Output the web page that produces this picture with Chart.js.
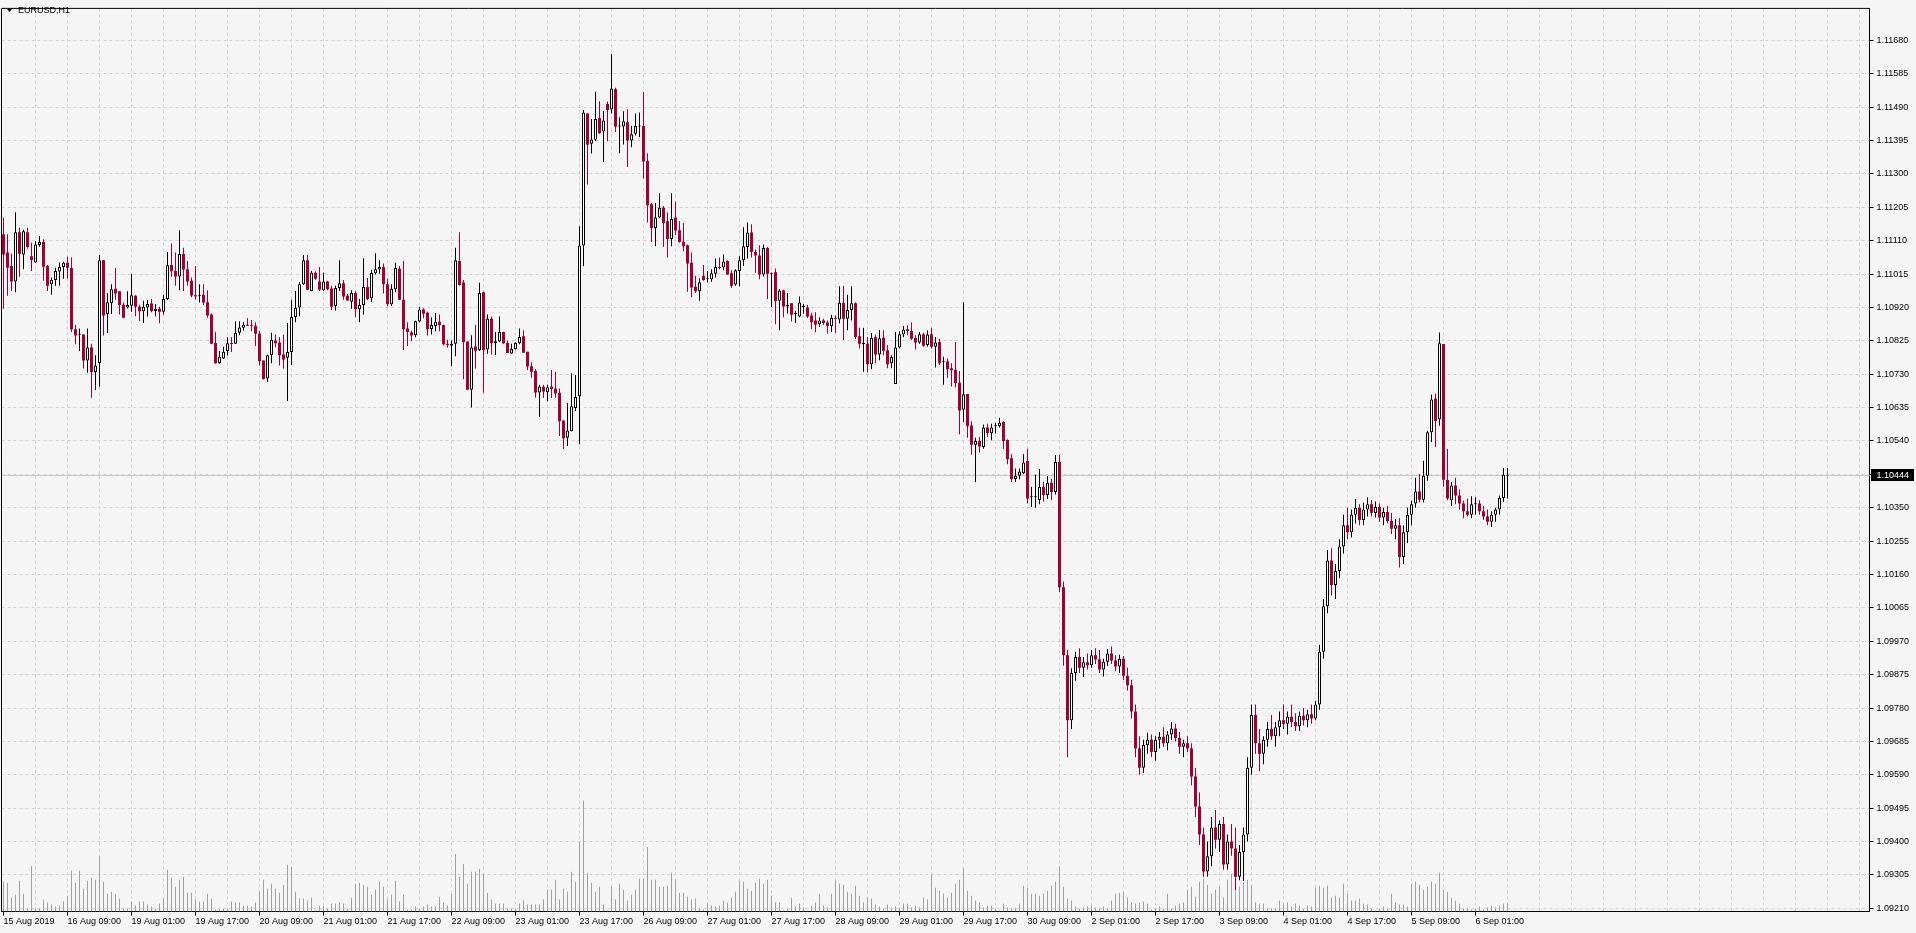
<!DOCTYPE html>
<html>
<head>
<meta charset="utf-8">
<title>EURUSD,H1</title>
<script src="https://cdn.jsdelivr.net/npm/chart.js@4.4.1/dist/chart.umd.min.js"></script>
<style>
  html, body { margin: 0; padding: 0; background: #f5f5f5; overflow: hidden; }
</style>
</head>
<body>
<canvas id="chart" width="1916" height="933"></canvas>
<script>
var symbol = 'EURUSD,H1';
var bidPrice = 1.10444;
var barCount = 377;
var slotCount = 467;

var priceTicks = [1.09210, 1.09305, 1.09400, 1.09495, 1.09590, 1.09685, 1.09780, 1.09875, 1.09970,
  1.10065, 1.10160, 1.10255, 1.10350, 1.10445, 1.10540, 1.10635, 1.10730, 1.10825, 1.10920,
  1.11015, 1.11110, 1.11205, 1.11300, 1.11395, 1.11490, 1.11585, 1.11680];

var axisLabels = ['15 Aug 2019', '16 Aug 09:00', '19 Aug 01:00', '19 Aug 17:00', '20 Aug 09:00',
  '21 Aug 01:00', '21 Aug 17:00', '22 Aug 09:00', '23 Aug 01:00', '23 Aug 17:00', '26 Aug 09:00',
  '27 Aug 01:00', '27 Aug 17:00', '28 Aug 09:00', '29 Aug 01:00', '29 Aug 17:00', '30 Aug 09:00',
  '2 Sep 01:00', '2 Sep 17:00', '3 Sep 09:00', '4 Sep 01:00', '4 Sep 17:00', '5 Sep 09:00', '6 Sep 01:00'];

var opens = [
  1.11128, 1.11076, 1.11038, 1.10994, 1.11134, 1.11071, 1.11134, 1.11066, 1.11048, 1.11098,
  1.11106, 1.11038, 1.10986, 1.10998, 1.11022, 1.11035, 1.11047, 1.11032, 1.10858, 1.10842,
  1.10843, 1.10769, 1.10806, 1.10736, 1.10762, 1.11054, 1.10901, 1.10932, 1.10973, 1.10966,
  1.10928, 1.10920, 1.10925, 1.10953, 1.10922, 1.10909, 1.10920, 1.10931, 1.10910, 1.10916,
  1.10908, 1.10944, 1.11041, 1.11024, 1.11008, 1.11072, 1.11029, 1.10996, 1.10955, 1.10952,
  1.10956, 1.10935, 1.10900, 1.10819, 1.10762, 1.10775, 1.10796, 1.10819, 1.10817, 1.10848,
  1.10862, 1.10871, 1.10871, 1.10868, 1.10846, 1.10769, 1.10718, 1.10784, 1.10826, 1.10820,
  1.10786, 1.10777, 1.10793, 1.10893, 1.10920, 1.10986, 1.11054, 1.10967, 1.11019, 1.10994,
  1.10969, 1.10994, 1.10974, 1.10924, 1.10975, 1.10989, 1.10953, 1.10936, 1.10961, 1.10915,
  1.10927, 1.10978, 1.10946, 1.11017, 1.11028, 1.11035, 1.10986, 1.10929, 1.10972, 1.11030,
  1.10942, 1.10860, 1.10849, 1.10841, 1.10880, 1.10914, 1.10905, 1.10859, 1.10867, 1.10879,
  1.10870, 1.10817, 1.10811, 1.10817, 1.11052, 1.10991, 1.10823, 1.10686, 1.10809, 1.10798,
  1.10963, 1.10800, 1.10888, 1.10818, 1.10823, 1.10850, 1.10819, 1.10789, 1.10801, 1.10818,
  1.10838, 1.10794, 1.10753, 1.10739, 1.10678, 1.10694, 1.10679, 1.10695, 1.10689, 1.10677,
  1.10598, 1.10549, 1.10568, 1.10634, 1.10667, 1.11096, 1.11472, 1.11386, 1.11397, 1.11459,
  1.11421, 1.11499, 1.11483, 1.11541, 1.11435, 1.11435, 1.11447, 1.11395, 1.11414, 1.11435,
  1.11436, 1.11337, 1.11214, 1.11146, 1.11176, 1.11204, 1.11165, 1.11115, 1.11176, 1.11140,
  1.11107, 1.11097, 1.11047, 1.10979, 1.10966, 1.11010, 1.11000, 1.11000, 1.11016, 1.11035,
  1.11034, 1.11052, 1.11017, 1.10985, 1.11024, 1.11054, 1.11092, 1.11133, 1.11078, 1.11068,
  1.11014, 1.11089, 1.11016, 1.11020, 1.10939, 1.10968, 1.10923, 1.10932, 1.10901, 1.10894,
  1.10921, 1.10920, 1.10897, 1.10883, 1.10872, 1.10883, 1.10877, 1.10867, 1.10890, 1.10886,
  1.10933, 1.10888, 1.10913, 1.10932, 1.10838, 1.10816, 1.10817, 1.10758, 1.10836, 1.10786,
  1.10834, 1.10798, 1.10761, 1.10702, 1.10806, 1.10843, 1.10858, 1.10853, 1.10833, 1.10820,
  1.10844, 1.10813, 1.10844, 1.10808, 1.10822, 1.10764, 1.10766, 1.10747, 1.10743, 1.10706,
  1.10629, 1.10674, 1.10584, 1.10529, 1.10540, 1.10523, 1.10578, 1.10562, 1.10583, 1.10582,
  1.10594, 1.10543, 1.10491, 1.10432, 1.10441, 1.10448, 1.10483, 1.10380, 1.10380, 1.10372,
  1.10409, 1.10386, 1.10421, 1.10395, 1.10480, 1.10124, 1.09930, 1.09745, 1.09880, 1.09925,
  1.09895, 1.09910, 1.09902, 1.09930, 1.09918, 1.09890, 1.09912, 1.09935, 1.09915, 1.09898,
  1.09920, 1.09872, 1.09845, 1.09770, 1.09665, 1.09610, 1.09675, 1.09690, 1.09655, 1.09690,
  1.09698, 1.09680, 1.09705, 1.09722, 1.09695, 1.09670, 1.09680, 1.09665, 1.09585, 1.09500,
  1.09420, 1.09315, 1.09358, 1.09440, 1.09405, 1.09450, 1.09335, 1.09400, 1.09380, 1.09300,
  1.09370, 1.09420, 1.09610, 1.09760, 1.09680, 1.09650, 1.09690, 1.09720, 1.09700, 1.09725,
  1.09745, 1.09735, 1.09755, 1.09740, 1.09728, 1.09758, 1.09745, 1.09762, 1.09750, 1.09790,
  1.09940, 1.10070, 1.10200, 1.10130, 1.10170, 1.10240, 1.10300, 1.10280, 1.10330, 1.10350,
  1.10315, 1.10345, 1.10360, 1.10335, 1.10352, 1.10322, 1.10338, 1.10312, 1.10290, 1.10300,
  1.10210, 1.10280, 1.10330, 1.10362, 1.10396, 1.10373, 1.10441, 1.10565, 1.10660, 1.10602,
  1.10816, 1.10429, 1.10371, 1.10413, 1.10385, 1.10362, 1.10340, 1.10330, 1.10360, 1.10362,
  1.10340, 1.10325, 1.10310, 1.10330, 1.10345, 1.10378, 1.10441
];
var highs = [
  1.11175, 1.11128, 1.11073, 1.11191, 1.11147, 1.11141, 1.11147, 1.11104, 1.11109, 1.11123,
  1.11114, 1.11041, 1.11005, 1.11033, 1.11048, 1.11050, 1.11064, 1.11062, 1.10871, 1.10860,
  1.10843, 1.10860, 1.10817, 1.10784, 1.11069, 1.11054, 1.10961, 1.10986, 1.11032, 1.10967,
  1.10934, 1.10966, 1.11015, 1.10955, 1.10928, 1.10939, 1.10941, 1.10944, 1.10929, 1.10922,
  1.10956, 1.11078, 1.11102, 1.11076, 1.11140, 1.11090, 1.11052, 1.11005, 1.11038, 1.10986,
  1.10986, 1.10969, 1.10903, 1.10851, 1.10796, 1.10808, 1.10835, 1.10835, 1.10881, 1.10881,
  1.10878, 1.10889, 1.10884, 1.10877, 1.10854, 1.10769, 1.10786, 1.10848, 1.10843, 1.10835,
  1.10842, 1.10876, 1.10942, 1.10967, 1.10993, 1.11069, 1.11069, 1.11024, 1.11023, 1.11035,
  1.11019, 1.10996, 1.10982, 1.10982, 1.11054, 1.10998, 1.10958, 1.10969, 1.10966, 1.10944,
  1.11060, 1.11004, 1.11027, 1.11074, 1.11054, 1.11045, 1.11002, 1.10986, 1.11047, 1.11038,
  1.11052, 1.10878, 1.10854, 1.10882, 1.10922, 1.10918, 1.10908, 1.10892, 1.10904, 1.10900,
  1.10871, 1.10828, 1.10826, 1.11090, 1.11134, 1.10998, 1.10823, 1.10841, 1.10870, 1.10990,
  1.10965, 1.10900, 1.10894, 1.10850, 1.10894, 1.10851, 1.10826, 1.10817, 1.10821, 1.10860,
  1.10855, 1.10794, 1.10764, 1.10744, 1.10700, 1.10700, 1.10700, 1.10742, 1.10737, 1.10689,
  1.10598, 1.10648, 1.10733, 1.10728, 1.11151, 1.11482, 1.11472, 1.11456, 1.11534, 1.11507,
  1.11480, 1.11506, 1.11641, 1.11545, 1.11461, 1.11478, 1.11484, 1.11437, 1.11472, 1.11475,
  1.11533, 1.11359, 1.11217, 1.11217, 1.11245, 1.11209, 1.11190, 1.11245, 1.11221, 1.11165,
  1.11160, 1.11099, 1.11076, 1.11010, 1.11003, 1.11041, 1.11024, 1.11029, 1.11059, 1.11062,
  1.11071, 1.11054, 1.11026, 1.11029, 1.11066, 1.11148, 1.11162, 1.11157, 1.11085, 1.11097,
  1.11099, 1.11092, 1.11019, 1.11031, 1.10972, 1.10970, 1.10961, 1.10932, 1.10910, 1.10951,
  1.10930, 1.10927, 1.10905, 1.10906, 1.10892, 1.10888, 1.10883, 1.10899, 1.10897, 1.10980,
  1.10982, 1.10956, 1.10980, 1.10935, 1.10862, 1.10862, 1.10836, 1.10847, 1.10843, 1.10856,
  1.10855, 1.10813, 1.10784, 1.10850, 1.10852, 1.10867, 1.10869, 1.10878, 1.10841, 1.10850,
  1.10848, 1.10855, 1.10862, 1.10836, 1.10831, 1.10780, 1.10775, 1.10761, 1.10822, 1.10739,
  1.10935, 1.10674, 1.10596, 1.10549, 1.10551, 1.10587, 1.10589, 1.10589, 1.10592, 1.10606,
  1.10596, 1.10545, 1.10502, 1.10462, 1.10462, 1.10502, 1.10518, 1.10409, 1.10444, 1.10460,
  1.10425, 1.10440, 1.10432, 1.10500, 1.10500, 1.10140, 1.09946, 1.09893, 1.09940, 1.09950,
  1.09925, 1.09935, 1.09945, 1.09950, 1.09945, 1.09920, 1.09948, 1.09955, 1.09930, 1.09932,
  1.09928, 1.09895, 1.09860, 1.09790, 1.09700, 1.09690, 1.09710, 1.09705, 1.09700, 1.09712,
  1.09725, 1.09715, 1.09740, 1.09735, 1.09712, 1.09690, 1.09700, 1.09680, 1.09610, 1.09540,
  1.09440, 1.09400, 1.09470, 1.09490, 1.09460, 1.09470, 1.09420, 1.09450, 1.09440, 1.09390,
  1.09440, 1.09640, 1.09790, 1.09790, 1.09720, 1.09700, 1.09740, 1.09760, 1.09740, 1.09770,
  1.09790, 1.09770, 1.09790, 1.09765, 1.09770, 1.09780, 1.09775, 1.09790, 1.09800, 1.09960,
  1.10090, 1.10230, 1.10235, 1.10190, 1.10260, 1.10330, 1.10350, 1.10345, 1.10375, 1.10360,
  1.10365, 1.10380, 1.10372, 1.10368, 1.10362, 1.10350, 1.10355, 1.10335, 1.10318, 1.10320,
  1.10300, 1.10350, 1.10370, 1.10435, 1.10446, 1.10484, 1.10569, 1.10672, 1.10675, 1.10849,
  1.10816, 1.10517, 1.10423, 1.10435, 1.10402, 1.10370, 1.10376, 1.10383, 1.10380, 1.10371,
  1.10355, 1.10345, 1.10340, 1.10350, 1.10385, 1.10463, 1.10463
];
var lows = [
  1.10916, 1.10953, 1.10967, 1.10963, 1.11007, 1.11029, 1.11087, 1.11024, 1.11048, 1.11093,
  1.10996, 1.10967, 1.10956, 1.10982, 1.10982, 1.11002, 1.11002, 1.10850, 1.10815, 1.10796,
  1.10746, 1.10734, 1.10663, 1.10685, 1.10694, 1.10840, 1.10847, 1.10901, 1.10942, 1.10900,
  1.10889, 1.10917, 1.10908, 1.10895, 1.10881, 1.10876, 1.10894, 1.10906, 1.10895, 1.10875,
  1.10900, 1.10941, 1.11007, 1.10982, 1.10969, 1.10967, 1.10982, 1.10949, 1.10942, 1.10934,
  1.10927, 1.10891, 1.10815, 1.10760, 1.10760, 1.10773, 1.10783, 1.10793, 1.10817, 1.10841,
  1.10854, 1.10867, 1.10852, 1.10810, 1.10755, 1.10716, 1.10708, 1.10761, 1.10807, 1.10755,
  1.10746, 1.10654, 1.10756, 1.10878, 1.10895, 1.10984, 1.10970, 1.10966, 1.10999, 1.10967,
  1.10967, 1.10969, 1.10913, 1.10911, 1.10967, 1.10942, 1.10939, 1.10916, 1.10892, 1.10878,
  1.10899, 1.10941, 1.10936, 1.11014, 1.11016, 1.10960, 1.10923, 1.10924, 1.10963, 1.10941,
  1.10799, 1.10810, 1.10824, 1.10835, 1.10878, 1.10889, 1.10840, 1.10843, 1.10852, 1.10852,
  1.10812, 1.10805, 1.10753, 1.10781, 1.10982, 1.10716, 1.10686, 1.10635, 1.10746, 1.10796,
  1.10677, 1.10788, 1.10786, 1.10785, 1.10822, 1.10817, 1.10790, 1.10788, 1.10800, 1.10815,
  1.10791, 1.10742, 1.10720, 1.10664, 1.10608, 1.10662, 1.10653, 1.10662, 1.10662, 1.10554,
  1.10517, 1.10526, 1.10568, 1.10625, 1.10531, 1.11038, 1.11270, 1.11358, 1.11393, 1.11414,
  1.11334, 1.11393, 1.11472, 1.11419, 1.11359, 1.11384, 1.11320, 1.11376, 1.11409, 1.11405,
  1.11287, 1.11162, 1.11106, 1.11094, 1.11174, 1.11093, 1.11062, 1.11094, 1.11126, 1.11104,
  1.11080, 1.10965, 1.10949, 1.10961, 1.10939, 1.10996, 1.10991, 1.10993, 1.11005, 1.11029,
  1.11026, 1.11012, 1.10976, 1.10982, 1.10980, 1.11038, 1.11059, 1.11062, 1.11019, 1.11000,
  1.11008, 1.10944, 1.10921, 1.10872, 1.10855, 1.10892, 1.10902, 1.10880, 1.10876, 1.10892,
  1.10902, 1.10890, 1.10858, 1.10850, 1.10864, 1.10871, 1.10845, 1.10850, 1.10847, 1.10874,
  1.10827, 1.10855, 1.10883, 1.10830, 1.10803, 1.10737, 1.10735, 1.10744, 1.10761, 1.10770,
  1.10784, 1.10747, 1.10747, 1.10702, 1.10803, 1.10836, 1.10841, 1.10827, 1.10800, 1.10817,
  1.10808, 1.10808, 1.10803, 1.10749, 1.10756, 1.10700, 1.10720, 1.10695, 1.10692, 1.10559,
  1.10594, 1.10549, 1.10501, 1.10423, 1.10507, 1.10518, 1.10551, 1.10542, 1.10561, 1.10578,
  1.10517, 1.10474, 1.10423, 1.10423, 1.10431, 1.10446, 1.10362, 1.10352, 1.10350, 1.10360,
  1.10368, 1.10375, 1.10371, 1.10388, 1.10110, 1.09900, 1.09640, 1.09720, 1.09858, 1.09880,
  1.09868, 1.09890, 1.09895, 1.09905, 1.09880, 1.09870, 1.09900, 1.09905, 1.09885, 1.09880,
  1.09860, 1.09830, 1.09750, 1.09640, 1.09590, 1.09595, 1.09650, 1.09640, 1.09630, 1.09665,
  1.09670, 1.09660, 1.09690, 1.09685, 1.09650, 1.09640, 1.09655, 1.09560, 1.09470, 1.09390,
  1.09300, 1.09300, 1.09330, 1.09380, 1.09370, 1.09320, 1.09320, 1.09360, 1.09262, 1.09290,
  1.09288, 1.09400, 1.09590, 1.09650, 1.09600, 1.09620, 1.09670, 1.09690, 1.09670, 1.09700,
  1.09720, 1.09705, 1.09725, 1.09715, 1.09715, 1.09730, 1.09725, 1.09735, 1.09745, 1.09775,
  1.09920, 1.10050, 1.10100, 1.10090, 1.10150, 1.10220, 1.10260, 1.10265, 1.10305, 1.10300,
  1.10300, 1.10325, 1.10325, 1.10322, 1.10310, 1.10300, 1.10305, 1.10275, 1.10260, 1.10180,
  1.10190, 1.10250, 1.10300, 1.10350, 1.10365, 1.10365, 1.10427, 1.10537, 1.10523, 1.10583,
  1.10410, 1.10371, 1.10355, 1.10360, 1.10345, 1.10320, 1.10325, 1.10320, 1.10330, 1.10330,
  1.10315, 1.10300, 1.10295, 1.10310, 1.10330, 1.10367, 1.10376
];
var closes = [
  1.11071, 1.11033, 1.10994, 1.11134, 1.11073, 1.11137, 1.11092, 1.11055, 1.11099, 1.11106,
  1.11036, 1.10982, 1.10999, 1.11024, 1.11035, 1.11047, 1.11033, 1.10858, 1.10840, 1.10843,
  1.10769, 1.10806, 1.10736, 1.10755, 1.11054, 1.10897, 1.10935, 1.10972, 1.10960, 1.10927,
  1.10891, 1.10927, 1.10955, 1.10922, 1.10909, 1.10922, 1.10930, 1.10910, 1.10916, 1.10908,
  1.10944, 1.11040, 1.11023, 1.11008, 1.11072, 1.11028, 1.10994, 1.10954, 1.10951, 1.10954,
  1.10934, 1.10897, 1.10817, 1.10761, 1.10780, 1.10794, 1.10818, 1.10816, 1.10848, 1.10863,
  1.10871, 1.10868, 1.10868, 1.10845, 1.10767, 1.10716, 1.10784, 1.10828, 1.10818, 1.10784,
  1.10772, 1.10793, 1.10893, 1.10919, 1.10986, 1.11054, 1.10970, 1.11019, 1.11002, 1.10970,
  1.10994, 1.10972, 1.10922, 1.10975, 1.10989, 1.10951, 1.10940, 1.10961, 1.10915, 1.10927,
  1.10978, 1.10944, 1.11018, 1.11029, 1.11035, 1.10986, 1.10929, 1.10973, 1.11032, 1.10942,
  1.10858, 1.10850, 1.10840, 1.10881, 1.10914, 1.10902, 1.10858, 1.10870, 1.10879, 1.10870,
  1.10815, 1.10813, 1.10817, 1.11054, 1.10984, 1.10822, 1.10686, 1.10806, 1.10797, 1.10961,
  1.10798, 1.10888, 1.10818, 1.10824, 1.10850, 1.10818, 1.10790, 1.10802, 1.10819, 1.10836,
  1.10791, 1.10752, 1.10737, 1.10678, 1.10695, 1.10681, 1.10693, 1.10688, 1.10675, 1.10596,
  1.10548, 1.10570, 1.10639, 1.10665, 1.11096, 1.11475, 1.11383, 1.11398, 1.11456, 1.11416,
  1.11452, 1.11482, 1.11543, 1.11435, 1.11436, 1.11450, 1.11395, 1.11413, 1.11436, 1.11436,
  1.11335, 1.11211, 1.11146, 1.11176, 1.11204, 1.11160, 1.11115, 1.11172, 1.11139, 1.11106,
  1.11094, 1.11045, 1.10977, 1.10966, 1.10992, 1.10998, 1.11003, 1.11017, 1.11035, 1.11033,
  1.11051, 1.11014, 1.10982, 1.11026, 1.11054, 1.11094, 1.11133, 1.11078, 1.11068, 1.11014,
  1.11089, 1.11016, 1.11017, 1.10938, 1.10968, 1.10923, 1.10928, 1.10899, 1.10905, 1.10934,
  1.10923, 1.10894, 1.10878, 1.10871, 1.10883, 1.10876, 1.10867, 1.10891, 1.10888, 1.10933,
  1.10888, 1.10913, 1.10932, 1.10836, 1.10817, 1.10818, 1.10758, 1.10834, 1.10786, 1.10832,
  1.10797, 1.10758, 1.10779, 1.10806, 1.10844, 1.10857, 1.10853, 1.10831, 1.10820, 1.10844,
  1.10811, 1.10843, 1.10808, 1.10820, 1.10761, 1.10766, 1.10744, 1.10741, 1.10705, 1.10627,
  1.10673, 1.10582, 1.10529, 1.10540, 1.10524, 1.10578, 1.10563, 1.10578, 1.10585, 1.10592,
  1.10540, 1.10488, 1.10432, 1.10441, 1.10453, 1.10479, 1.10376, 1.10382, 1.10383, 1.10409,
  1.10386, 1.10421, 1.10395, 1.10480, 1.10124, 1.09930, 1.09745, 1.09880, 1.09925, 1.09895,
  1.09910, 1.09902, 1.09930, 1.09918, 1.09890, 1.09912, 1.09935, 1.09915, 1.09898, 1.09920,
  1.09872, 1.09845, 1.09770, 1.09665, 1.09610, 1.09675, 1.09690, 1.09655, 1.09690, 1.09698,
  1.09680, 1.09705, 1.09722, 1.09695, 1.09670, 1.09680, 1.09665, 1.09585, 1.09500, 1.09420,
  1.09315, 1.09358, 1.09440, 1.09405, 1.09450, 1.09335, 1.09400, 1.09380, 1.09300, 1.09370,
  1.09420, 1.09610, 1.09760, 1.09680, 1.09650, 1.09690, 1.09720, 1.09700, 1.09725, 1.09745,
  1.09735, 1.09755, 1.09740, 1.09728, 1.09758, 1.09745, 1.09762, 1.09750, 1.09790, 1.09940,
  1.10070, 1.10200, 1.10130, 1.10170, 1.10240, 1.10300, 1.10280, 1.10330, 1.10350, 1.10315,
  1.10345, 1.10360, 1.10335, 1.10352, 1.10322, 1.10338, 1.10312, 1.10290, 1.10300, 1.10210,
  1.10280, 1.10330, 1.10360, 1.10396, 1.10373, 1.10441, 1.10565, 1.10658, 1.10597, 1.10818,
  1.10430, 1.10376, 1.10413, 1.10385, 1.10362, 1.10340, 1.10330, 1.10360, 1.10362, 1.10340,
  1.10325, 1.10310, 1.10330, 1.10345, 1.10378, 1.10444, 1.10444
];
var volumes = [
  3000, 2900, 1400, 1700, 3100, 1800, 300, 4600, 300, 300,
  1200, 900, 700, 500, 600, 1000, 1600, 4100, 2900, 4100,
  2300, 3100, 3400, 3200, 5600, 3000, 1800, 2000, 1800, 1300,
  300, 300, 1000, 600, 1000, 1000, 700, 500, 300, 800,
  1300, 4200, 3400, 2500, 3200, 3500, 1900, 1900, 1200, 1000,
  1000, 1800, 1300, 200, 200, 300, 300, 1000, 900, 900,
  600, 600, 500, 900, 2000, 3200, 2300, 2800, 2300, 1900,
  2700, 4700, 4500, 2000, 1300, 1300, 1100, 1400, 100, 600,
  600, 300, 800, 800, 900, 800, 300, 1400, 2800, 2900,
  2700, 2500, 1700, 2200, 3000, 2500, 1200, 1700, 3100, 1000,
  1700, 200, 200, 500, 300, 500, 700, 500, 500, 1500,
  900, 600, 1800, 5800, 3500, 4800, 2800, 4000, 4000, 4300,
  3800, 1900, 1200, 800, 800, 800, 300, 300, 300, 800,
  1100, 700, 700, 700, 700, 1200, 2200, 2200, 3200, 1200,
  2300, 2000, 4000, 3000, 7000, 11200, 3900, 2900, 2000, 2500,
  700, 100, 2500, 1200, 2800, 2200, 1100, 1700, 2200, 3300,
  3300, 6500, 3200, 3200, 2500, 2500, 2600, 3900, 3200, 1900,
  1900, 1500, 1200, 1300, 300, 200, 800, 600, 500, 600,
  1100, 900, 1400, 2000, 3100, 3000, 2300, 2100, 2900, 3300,
  2800, 3200, 1600, 900, 900, 100, 300, 1400, 500, 800,
  400, 100, 600, 900, 1800, 600, 400, 1800, 3100, 2800,
  2700, 2000, 1800, 2600, 1600, 900, 1400, 1300, 700, 500,
  300, 700, 300, 500, 400, 800, 800, 400, 600, 400,
  1400, 1200, 3700, 2400, 2100, 1800, 1400, 1900, 2800, 3200,
  4400, 2100, 1600, 1100, 900, 400, 600, 600, 300, 100,
  800, 400, 300, 400, 800, 2600, 2400, 1800, 1800, 1600,
  1800, 2100, 2600, 3000, 4600, 2500, 1300, 1100, 500, 300,
  400, 500, 600, 400, 300, 500, 300, 1100, 1800, 1900,
  2000, 1400, 900, 800, 900, 1000, 800, 200, 300, 500,
  300, 1800, 300, 600, 800, 900, 2200, 2500, 1500, 3000,
  3300, 2700, 1800, 2200, 2500, 1400, 3200, 3800, 4400, 2500,
  3000, 3200, 2600, 900, 800, 800, 300, 300, 300, 1100,
  800, 900, 500, 800, 600, 300, 600, 500, 2400, 2600,
  2400, 2600, 1400, 1600, 1400, 2800, 1800, 1100, 1100, 1300,
  800, 700, 300, 100, 300, 500, 300, 1800, 900, 700,
  700, 500, 2800, 3000, 2700, 2200, 2500, 3000, 2800, 3900,
  2200, 2000, 1400, 1100, 800, 300, 300, 200, 300, 500,
  200, 400, 600, 400, 600, 800, 800
];

// bar times, hourly, weekends skipped
var times = [];
var t = Date.UTC(2019, 7, 15, 17);
while (times.length < barCount) {
  var d = new Date(t);
  var wd = d.getUTCDay();
  if (wd !== 0 && wd !== 6) times.push(d.toISOString().slice(0, 16).replace('T', ' '));
  t += 3600000;
}

var bearColor = '#9b0036';
var gridColor = '#cfcfcf';
var fontSpec = { family: 'Liberation Sans', size: 9 };

var labels = [], wickData = [], bodyData = [], volData = [];
var wickColors = [], bodyFill = [], bodyBorder = [], bodyBorderW = [];
for (var i = 0; i < slotCount; i++) {
  labels.push(i < times.length ? times[i] : '');
  if (i < opens.length) {
    var up = closes[i] >= opens[i];
    wickData.push([lows[i], highs[i]]);
    bodyData.push([opens[i], closes[i]]);
    wickColors.push(up ? '#000000' : bearColor);
    bodyFill.push(up ? '#ffffff' : bearColor);
    bodyBorder.push(up ? '#000000' : bearColor);
    bodyBorderW.push(up ? 1 : 0);
  } else {
    wickData.push(null); bodyData.push(null);
    wickColors.push('#000'); bodyFill.push('#fff'); bodyBorder.push('#000'); bodyBorderW.push(0);
  }
  volData.push(i < volumes.length ? volumes[i] : null);
}

var mtPlugin = {
  id: 'mtPlugin',
  beforeDraw: function(chart) {
    var c = chart.ctx;
    c.save();
    c.fillStyle = '#f5f5f5';
    c.fillRect(0, 0, chart.width, chart.height);
    c.restore();
  },
  beforeDatasetsDraw: function(chart) {
    var c = chart.ctx, a = chart.chartArea;
    var y = Math.round(chart.scales.y.getPixelForValue(bidPrice)) + 0.5;
    c.save();
    c.strokeStyle = '#c8c8c8';
    c.lineWidth = 1;
    c.beginPath();
    c.moveTo(a.left, y);
    c.lineTo(a.right, y);
    c.stroke();
    c.restore();
  },
  afterDraw: function(chart) {
    var c = chart.ctx, a = chart.chartArea;
    c.save();
    // frame
    c.strokeStyle = '#000';
    c.lineWidth = 1;
    c.beginPath();
    c.moveTo(a.left, a.bottom);
    c.lineTo(a.left, a.top);
    c.lineTo(a.right, a.top);
    c.stroke();
    // bid label
    var y = Math.round(chart.scales.y.getPixelForValue(bidPrice));
    c.fillStyle = '#000';
    c.fillRect(1871, y - 6, 43, 12);
    c.fillStyle = '#fff';
    c.font = '9px "Liberation Sans"';
    c.textBaseline = 'middle';
    c.textAlign = 'left';
    c.fillText(bidPrice.toFixed(5), 1876.5, y + 0.5);
    // symbol caption
    c.fillStyle = '#000';
    c.beginPath();
    c.moveTo(7, 9);
    c.lineTo(12, 9);
    c.lineTo(9.5, 12);
    c.closePath();
    c.fill();
    c.fillText(symbol, 18, 11);
    c.restore();
  }
};

var chart = new Chart(document.getElementById('chart'), {
  type: 'bar',
  data: {
    labels: labels,
    datasets: [
      {
        label: 'Volume',
        data: volData,
        yAxisID: 'yv',
        backgroundColor: '#a0a0a0',
        barThickness: 1,
        grouped: false,
        inflateAmount: 0,
        order: 3
      },
      {
        label: 'Wick',
        data: wickData,
        backgroundColor: wickColors,
        barThickness: 1,
        grouped: false,
        inflateAmount: 0,
        borderSkipped: false,
        order: 2
      },
      {
        label: 'Body',
        data: bodyData,
        backgroundColor: bodyFill,
        borderColor: bodyBorder,
        borderWidth: bodyBorderW,
        borderSkipped: false,
        barThickness: 3,
        minBarLength: 1,
        grouped: false,
        inflateAmount: 0,
        order: 1
      }
    ]
  },
  options: {
    responsive: false,
    devicePixelRatio: 1,
    animation: false,
    layout: { padding: { left: 1.5, top: 0.5, right: 0, bottom: 0 } },
    plugins: { legend: { display: false }, tooltip: { enabled: false }, title: { display: false } },
    scales: {
      x: {
        type: 'category',
        offset: true,
        grid: {
          offset: false,
          color: function(c) { return (c.index > 0 && c.index % 8 === 0) ? gridColor : 'rgba(0,0,0,0)'; },
          tickColor: function(c) { return (c.index % 16 === 0 && c.index < barCount) ? '#000' : 'rgba(0,0,0,0)'; },
          tickLength: 4,
          tickBorderDash: []
        },
        border: { display: true, color: '#000', width: 1, dash: [3, 3] },
        ticks: {
          autoSkip: false,
          maxRotation: 0,
          minRotation: 0,
          align: 'start',
          padding: 1,
          color: '#000',
          font: fontSpec,
          callback: function(v, i) {
            return (i % 16 === 0 && i / 16 < axisLabels.length) ? axisLabels[i / 16] : '';
          }
        },
        afterFit: function(s) { s.height = 21.5; }
      },
      y: {
        position: 'right',
        min: 1.09201,
        max: 1.11771,
        afterBuildTicks: function(s) { s.ticks = priceTicks.map(function(v) { return { value: v }; }); },
        grid: { color: gridColor, tickColor: '#000', tickLength: 4, tickBorderDash: [] },
        border: { display: true, color: '#000', width: 1, dash: [3, 3] },
        ticks: {
          padding: 3,
          color: '#000',
          font: fontSpec,
          callback: function(v) { return Number(v).toFixed(5); }
        },
        afterFit: function(s) { s.width = 46.5; }
      },
      yv: {
        display: false,
        position: 'left',
        min: 0,
        max: 91100
      }
    }
  },
  plugins: [mtPlugin]
});
</script>
</body>
</html>
